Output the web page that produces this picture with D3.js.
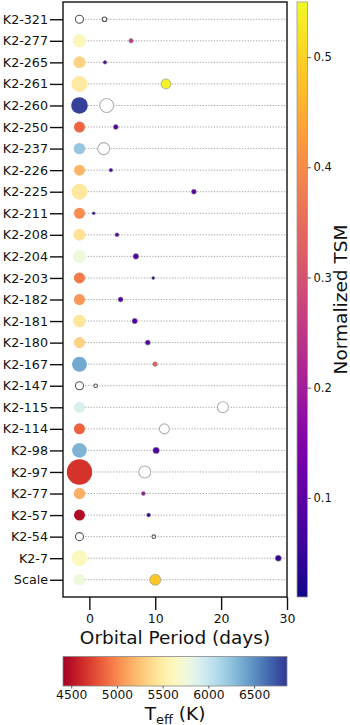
<!DOCTYPE html>
<html><head><meta charset="utf-8">
<script src="https://cdn.jsdelivr.net/npm/d3@7"></script>
<style>
html,body{margin:0;padding:0;background:#fff;}
svg{display:block;font-family:"DejaVu Sans",sans-serif;}
</style></head>
<body><svg id="c" width="350" height="725"></svg>
<script>
// ---- data ----
const systems = ["K2-321","K2-277","K2-265","K2-261","K2-260","K2-250","K2-237","K2-226","K2-225","K2-211","K2-208","K2-204","K2-203","K2-182","K2-181","K2-180","K2-167","K2-147","K2-115","K2-114","K2-98","K2-97","K2-77","K2-57","K2-54","K2-7","Scale"];
const starTeff = [null,5600,5330,5480,6820,4870,6220,5180,5460,5020,5420,5760,4950,5060,5450,5320,6380,null,5900,4860,6330,4660,5160,4470,null,5620,5760];
const starRadius = [0.42,1.1,0.94,1.66,1.79,0.79,0.85,0.79,1.66,0.79,0.94,1.1,0.79,0.79,1.03,0.79,1.46,0.42,0.79,0.79,1.39,4.2,0.85,0.79,0.42,1.66,0.85];
const planetPeriod = [2.3,6.33,2.37,11.63,2.63,4.01,2.18,3.27,15.87,0.67,4.19,7.06,9.69,4.74,6.89,8.87,9.98,0.96,20.27,11.39,10.14,8.41,8.2,9.0,9.78,28.68,10.0];
const planetRadius = [2.07,1.9,1.27,9.8,19.0,2.4,14.0,1.27,2.4,0.88,1.56,3.06,0.88,2.44,2.85,2.44,2.07,1.27,11.8,9.8,4.0,14.0,1.56,1.56,1.27,3.5,11.8];
const planetTSM = [null,0.25,0.08,0.54,null,0.09,null,0.08,0.09,0.04,0.09,0.09,0.03,0.09,0.08,0.09,0.33,null,null,null,0.08,null,0.19,0.07,null,0.05,0.485];
const xTicks = [0,10,20,30];
const tsmTicks = [0.1,0.2,0.3,0.4,0.5];
const teffTicks = [4500,5000,5500,6000,6500];
const starPeriodPos = -1.5;

// ---- layout ----
const svg = d3.select("#c");
const L = 63, R = 287, T = 2, B = 597;
const x = d3.scaleLinear().domain([-4, 30]).range([L, R]);
const y = d3.scaleLinear().domain([-0.8, systems.length - 0.2]).range([T, B]);
const rStar = d3.scaleSqrt().domain([0, 1]).range([0, 6.2]);
const rPlanet = d3.scaleSqrt().domain([0, 1]).range([0, 1.6]);
const tsmDomain = [0.01, 0.55];
const teffDomain = [4410, 6860];
const tsmColor = d3.scaleSequential(d3.interpolatePlasma).domain(tsmDomain);
const teffColor = d3.scaleSequential(d3.interpolateRdYlBu).domain(teffDomain);

const rows = systems.map((s, i) => ({
  name: s, i, teff: starTeff[i], rs: starRadius[i],
  p: planetPeriod[i], rp: planetRadius[i], tsm: planetTSM[i]
}));

// dotted guide lines
svg.append("g").selectAll("line").data(rows).join("line")
  .attr("x1", x(starPeriodPos)).attr("x2", x(30))
  .attr("y1", d => y(d.i)).attr("y2", d => y(d.i))
  .attr("stroke", "#a8a8a8").attr("stroke-width", 1)
  .attr("stroke-dasharray", "1.3,1.5");

// stars
svg.append("g").selectAll("circle").data(rows).join("circle")
  .attr("cx", x(starPeriodPos)).attr("cy", d => y(d.i))
  .attr("r", d => rStar(d.rs))
  .attr("fill", d => d.teff == null ? "#fff" : teffColor(d.teff))
  .attr("stroke", d => d.teff == null ? "#555" : "none")
  .attr("stroke-width", 1.1);

// planets
svg.append("g").selectAll("circle").data(rows).join("circle")
  .attr("cx", d => x(d.p)).attr("cy", d => y(d.i))
  .attr("r", d => rPlanet(d.rp))
  .attr("fill", d => d.tsm == null ? "#fff" : tsmColor(d.tsm))
  .attr("stroke", d => d.tsm == null ? (d.teff == null ? "#555" : "#b0b0b0") : "#8a8a8a")
  .attr("stroke-width", d => d.tsm == null ? 1.1 : 0.6);

// frame
svg.append("rect").attr("x", L).attr("y", T).attr("width", R - L).attr("height", B - T)
  .attr("fill", "none").attr("stroke", "#111").attr("stroke-width", 1.4);

// y axis
const yAxis = svg.append("g").attr("transform", `translate(${L},0)`)
  .call(d3.axisLeft(y).tickValues(rows.map(d => d.i)).tickFormat(i => systems[i]).tickSize(13).tickPadding(2));
yAxis.select(".domain").remove();
yAxis.selectAll(".tick line").attr("stroke", "#111").attr("stroke-width", 1.4);
yAxis.selectAll(".tick text").attr("font-size", 12.7).attr("fill", "#111")
  .attr("font-family", "DejaVu Sans");

// x axis
const xAxis = svg.append("g").attr("transform", `translate(0,${B})`)
  .call(d3.axisBottom(x).tickValues(xTicks).tickFormat(d3.format("d")).tickSize(13).tickPadding(4));
xAxis.select(".domain").remove();
xAxis.selectAll(".tick line").attr("stroke", "#111").attr("stroke-width", 1.4);
xAxis.selectAll(".tick text").attr("font-size", 12.5).attr("fill", "#111")
  .attr("font-family", "DejaVu Sans");

svg.append("text").attr("x", (L + R) / 2).attr("y", 644)
  .attr("text-anchor", "middle").attr("font-size", 18.5).attr("fill", "#111")
  .text("Orbital Period (days)");

// defs for gradients
const defs = svg.append("defs");
const gv = defs.append("linearGradient").attr("id", "gtsm")
  .attr("x1", 0).attr("y1", 1).attr("x2", 0).attr("y2", 0);
d3.range(0, 1.0001, 0.02).forEach(t => gv.append("stop").attr("offset", t)
  .attr("stop-color", d3.interpolatePlasma(t)));
const gh = defs.append("linearGradient").attr("id", "gteff")
  .attr("x1", 0).attr("y1", 0).attr("x2", 1).attr("y2", 0);
d3.range(0, 1.0001, 0.02).forEach(t => gh.append("stop").attr("offset", t)
  .attr("stop-color", d3.interpolateRdYlBu(t)));

// vertical colorbar (TSM)
const cbL = 297, cbR = 307.5;
const yc = d3.scaleLinear().domain(tsmDomain).range([B, T]);
svg.append("rect").attr("x", cbL).attr("y", T).attr("width", cbR - cbL).attr("height", B - T)
  .attr("fill", "url(#gtsm)").attr("stroke", "#999").attr("stroke-width", 0.8);
const cAxis = svg.append("g").attr("transform", `translate(${cbR},0)`)
  .call(d3.axisRight(yc).tickValues(tsmTicks).tickFormat(d3.format(".1f")).tickSize(3.5).tickPadding(2.5));
cAxis.select(".domain").remove();
cAxis.selectAll(".tick line").attr("stroke", "#333").attr("stroke-width", 0.8);
cAxis.selectAll(".tick text").attr("font-size", 11.5).attr("fill", "#111")
  .attr("font-family", "DejaVu Sans");
svg.append("text").attr("transform", `translate(347,${(T + B) / 2}) rotate(-90)`)
  .attr("text-anchor", "middle").attr("font-size", 18.5).attr("fill", "#111")
  .text("Normalized TSM");

// horizontal colorbar (Teff)
const hbT = 656.5, hbB = 686;
const xc = d3.scaleLinear().domain(teffDomain).range([L, R]);
svg.append("rect").attr("x", L).attr("y", hbT).attr("width", R - L).attr("height", hbB - hbT)
  .attr("fill", "url(#gteff)").attr("stroke", "#888").attr("stroke-width", 0.8);
const hAxis = svg.append("g").attr("transform", `translate(0,${hbB})`)
  .call(d3.axisBottom(xc).tickValues(teffTicks).tickFormat(d3.format("d")).tickSize(2.5).tickPadding(1.5));
hAxis.select(".domain").remove();
hAxis.selectAll(".tick line").attr("stroke", "#333").attr("stroke-width", 0.8);
hAxis.selectAll(".tick text").attr("font-size", 12.3).attr("fill", "#111")
  .attr("font-family", "DejaVu Sans");

const tl = svg.append("text").attr("x", (L + R) / 2).attr("y", 719.5)
  .attr("text-anchor", "middle").attr("font-size", 18.5).attr("fill", "#111");
tl.append("tspan").text("T");
tl.append("tspan").attr("font-size", 13).attr("dy", 4).text("eff");
tl.append("tspan").attr("dy", -4).text(" (K)");
</script></body></html>
